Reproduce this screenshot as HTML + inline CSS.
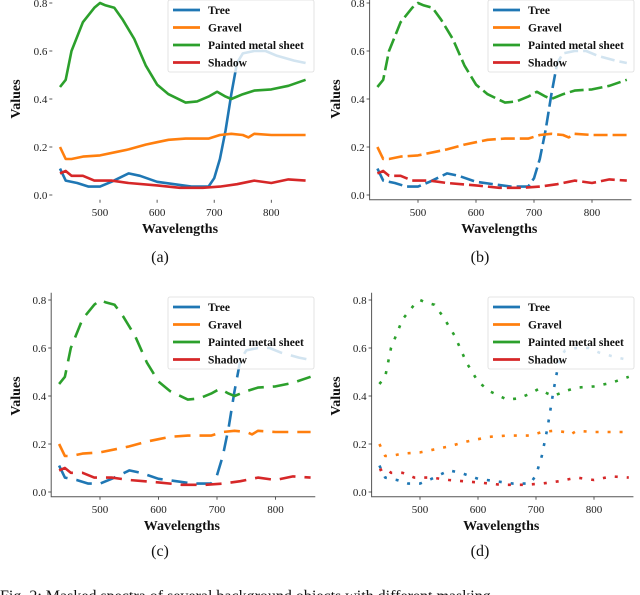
<!DOCTYPE html>
<html><head><meta charset="utf-8">
<style>
html,body{margin:0;padding:0;background:#fff;width:640px;height:595px;overflow:hidden;font-family:"Liberation Serif",serif;}
svg{position:absolute;left:0;top:0}
.tick{font-size:11px;fill:#222}
.atitle{font-size:14px;font-weight:bold;fill:#111}
.leg{font-size:11.5px;font-weight:bold;fill:#111}
.cap{font-size:16px;fill:#111}
</style></head><body>
<svg id="chart" width="640" height="595" xmlns="http://www.w3.org/2000/svg"></svg>
<script>
const treeX = [430,440,460,480,500,520,550,570,600,630,660,690,700,710,720,730,740,750,770,790,810,840,860];
const treeY = [0.11,0.06,0.05,0.035,0.035,0.055,0.09,0.08,0.055,0.045,0.035,0.035,0.07,0.15,0.27,0.42,0.55,0.59,0.6,0.6,0.58,0.56,0.55];
const gravelX = [430,440,450,470,500,530,550,580,600,620,650,690,710,730,750,760,770,800,830,860];
const gravelY = [0.2,0.15,0.15,0.16,0.165,0.18,0.19,0.21,0.22,0.23,0.235,0.235,0.25,0.255,0.25,0.24,0.255,0.25,0.25,0.25];
const paintX = [430,440,450,470,490,500,510,525,540,560,580,600,620,650,670,690,705,720,730,750,770,800,830,860];
const paintY = [0.45,0.48,0.6,0.72,0.78,0.8,0.79,0.78,0.73,0.65,0.54,0.46,0.42,0.385,0.39,0.41,0.43,0.41,0.4,0.42,0.435,0.44,0.455,0.48];
const shadowX = [430,440,450,470,490,520,550,600,640,680,710,740,760,770,800,830,860];
const shadowY = [0.09,0.1,0.08,0.08,0.06,0.06,0.05,0.04,0.03,0.03,0.035,0.045,0.055,0.06,0.05,0.065,0.06];
const xTicks = [500,600,700,800];
const yTicks = [0.0,0.2,0.4,0.6,0.8];
const seriesNames = ["Tree","Gravel","Painted metal sheet","Shadow"];
const colors = ["#1f77b4","#ff7f0e","#2ca02c","#d62728"];

const NS="http://www.w3.org/2000/svg";
const svg=document.getElementById('chart');
function mk(tag,attrs,parent){const e=document.createElementNS(NS,tag);for(const k in attrs)e.setAttribute(k,attrs[k]);(parent||svg).appendChild(e);return e;}

const panels=[
 {id:'a',ox:0,zeroY:195,x500:100,ppn:0.571,dash:null,spine:false,cap:'(a)',cx:160,cy:262},
 {id:'b',ox:320,zeroY:195,x500:418,ppn:0.58,dash:'14,5',spine:true,cap:'(b)',cx:480,cy:262},
 {id:'c',ox:0,zeroY:492,x500:100,ppn:0.585,dash:'16,9',spine:true,cap:'(c)',cx:160,cy:556},
 {id:'d',ox:320,zeroY:492,x500:420,ppn:0.58,dash:'3,9',spine:true,cap:'(d)',cx:480,cy:556}
];
const allX=[treeX,gravelX,paintX,shadowX], allY=[treeY,gravelY,paintY,shadowY];

panels.forEach(p=>{
  const g=mk('g',{});
  
  
  const xs=v=>p.x500+(v-500)*p.ppn;
  const ys=v=>p.zeroY-v*240;
  const left=xs(420)-2, right=xs(868);
  if(p.spine){
    const sp=mk('path',{d:`M${left},${ys(0.83)} L${left},${ys(-0.02)} L${right},${ys(-0.02)}`,fill:'none',stroke:'#555','stroke-width':1},g);
    
    
  }
  yTicks.forEach(t=>{
    mk('line',{x1:left-3,x2:left,y1:ys(t),y2:ys(t),stroke:'#333','stroke-width':0.8},g);
    const tx=mk('text',{x:left-5,y:ys(t)+4,'text-anchor':'end',class:'tick'},g);
    tx.textContent=t.toFixed(1);
    
    
  });
  xTicks.forEach(t=>{
    mk('line',{x1:xs(t),x2:xs(t),y1:ys(-0.02),y2:ys(-0.02)+3,stroke:'#333','stroke-width':0.8},g);
    const tx=mk('text',{x:xs(t),y:ys(-0.02)+16,'text-anchor':'middle',class:'tick'},g);
    tx.textContent=t;
    
    
  });
  const xt=mk('text',{x:xs(640),y:ys(-0.02)+33,'text-anchor':'middle',class:'atitle'},g);
  xt.textContent='Wavelengths';
  
  
  const yt=mk('text',{x:0,y:0,'text-anchor':'middle',class:'atitle',transform:`translate(${p.ox+20},${ys(0.4)}) rotate(-90)`},g);
  yt.textContent='Values';
  
  
  for(let s=0;s<4;s++){
    const d=allX[s].map((v,i)=>(i?'L':'M')+xs(v).toFixed(1)+','+ys(allY[s][i]).toFixed(1)).join(' ');
    const a={d,fill:'none',stroke:colors[s],'stroke-width':2.6,'stroke-linejoin':'round'};
    if(p.dash)a['stroke-dasharray']=p.dash;
    const path=mk('path',a,g);
    
    
  }
  const lg=mk('g',{},g);
  
  
  const lx=p.ox+168, ly=p.zeroY-195;
  mk('rect',{x:lx,y:ly,width:146,height:72,rx:2,fill:'#fff','fill-opacity':0.8,stroke:'#ddd','stroke-width':0.8},lg);
  seriesNames.forEach((n,i)=>{
    mk('line',{x1:lx+5,x2:lx+32,y1:ly+10+i*17.5,y2:ly+10+i*17.5,stroke:colors[i],'stroke-width':2.8},lg);
    const t=mk('text',{x:lx+40,y:ly+14+i*17.5,class:'leg'},lg);
    t.textContent=n;
    
    
  });
  const c=mk('text',{x:p.cx,y:p.cy,'text-anchor':'middle',class:'cap'},g);
  c.textContent=p.cap;
  
  
});
const fc=mk('text',{x:0,y:601,class:'cap'});
fc.textContent='Fig. 2:  Masked spectra of several background objects with different masking';


</script>
</body></html>
